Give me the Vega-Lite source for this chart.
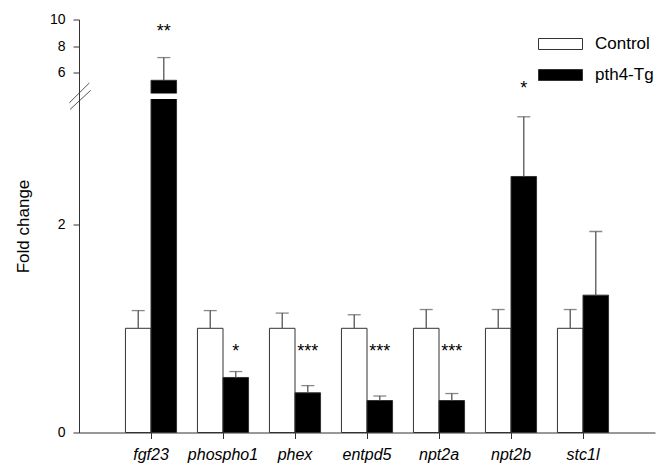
{
  "$schema": "https://vega.github.io/schema/vega-lite/v6.json",
  "width": 576,
  "height": 413,
  "autosize": {"type": "none"},
  "padding": {"left": 79, "top": 19.5, "right": 16, "bottom": 40.5},
  "config": {
    "font": "Liberation Sans",
    "view": {"stroke": null},
    "axis": {"grid": false, "domainColor": "#333333", "tickColor": "#333333", "labelColor": "#000000", "titleColor": "#000000"}
  },
  "datasets": {
    "bars": [
      {"gene": "fgf23", "group": "Control", "value": 1.0, "upper": 1.17},
      {"gene": "fgf23", "group": "pth4-Tg", "value": 5.45, "upper": 7.15},
      {"gene": "phospho1", "group": "Control", "value": 1.0, "upper": 1.17},
      {"gene": "phospho1", "group": "pth4-Tg", "value": 0.528, "upper": 0.585},
      {"gene": "phex", "group": "Control", "value": 1.0, "upper": 1.146},
      {"gene": "phex", "group": "pth4-Tg", "value": 0.381, "upper": 0.45},
      {"gene": "entpd5", "group": "Control", "value": 1.0, "upper": 1.13},
      {"gene": "entpd5", "group": "pth4-Tg", "value": 0.307, "upper": 0.35},
      {"gene": "npt2a", "group": "Control", "value": 1.0, "upper": 1.18},
      {"gene": "npt2a", "group": "pth4-Tg", "value": 0.307, "upper": 0.374},
      {"gene": "npt2b", "group": "Control", "value": 1.0, "upper": 1.18},
      {"gene": "npt2b", "group": "pth4-Tg", "value": 2.457, "upper": 3.03},
      {"gene": "stc1l", "group": "Control", "value": 1.0, "upper": 1.18},
      {"gene": "stc1l", "group": "pth4-Tg", "value": 1.318, "upper": 1.929}
    ],
    "stars": [
      {"gene": "fgf23", "group": "pth4-Tg", "label": "**", "pos": 9.05},
      {"gene": "phospho1", "group": "pth4-Tg", "label": "*", "pos": 0.77},
      {"gene": "phex", "group": "pth4-Tg", "label": "***", "pos": 0.77},
      {"gene": "entpd5", "group": "pth4-Tg", "label": "***", "pos": 0.77},
      {"gene": "npt2a", "group": "pth4-Tg", "label": "***", "pos": 0.77},
      {"gene": "npt2b", "group": "pth4-Tg", "label": "*", "pos": 4.78}
    ],
    "gap": [{"lo": 3.2, "hi": 4.46}],
    "brk": [
      {"sx": -0.0168, "sx2": 0.0179, "sy": 3.163, "sy2": 5.25},
      {"sx": -0.0156, "sx2": 0.0203, "sy": 3.10, "sy2": 4.70}
    ]
  },
  "layer": [
    {
      "layer": [
        {
          "data": {"name": "bars"},
          "mark": {"type": "bar", "stroke": "#333333", "strokeWidth": 1},
          "encoding": {
            "x": {
              "field": "gene", "type": "nominal",
              "scale": {"domain": ["fgf23", "phospho1", "phex", "entpd5", "npt2a", "npt2b", "stc1l"], "paddingInner": 0.29, "paddingOuter": 0.645},
              "axis": {"title": null, "labelAngle": 0, "labelFontSize": 16, "labelFontStyle": "italic", "tickSize": 6, "labelPadding": 8, "zindex": 1}
            },
            "xOffset": {"field": "group", "type": "nominal", "scale": {"domain": ["Control", "pth4-Tg"], "paddingInner": 0, "paddingOuter": 0}},
            "y": {
              "field": "value", "type": "quantitative",
              "scale": {"domain": [0, 3.2, 4.46, 10], "range": [413, 79.56, 74.04, 0], "nice": false, "zero": false},
              "axis": {"title": "Fold change", "values": [0, 2, 6, 8, 10], "labelFontSize": 14, "tickSize": 6, "labelPadding": 8, "titleFontSize": 17, "titleFontWeight": "normal", "titlePadding": 17, "zindex": 1}
            },
            "fill": {
              "field": "group", "type": "nominal",
              "scale": {"domain": ["Control", "pth4-Tg"], "range": ["#ffffff", "#000000"]},
              "legend": {
                "title": null, "orient": "none", "legendX": 459, "legendY": 2,
                "symbolType": "M-1,-0.25H1V0.25H-1Z", "symbolSize": 1936,
                "symbolStrokeColor": "#333333", "symbolStrokeWidth": 1,
                "labelFontSize": 17, "labelOffset": 12, "rowPadding": -20, "padding": 0
              }
            }
          }
        },
        {
          "data": {"name": "bars"},
          "mark": {"type": "rule", "color": "#555555", "strokeWidth": 1.3},
          "encoding": {
            "x": {"field": "gene", "type": "nominal"},
            "xOffset": {"field": "group", "type": "nominal"},
            "y": {"field": "value", "type": "quantitative"},
            "y2": {"field": "upper"}
          }
        },
        {
          "data": {"name": "bars"},
          "mark": {"type": "tick", "orient": "horizontal", "size": 13, "thickness": 1.3, "color": "#555555"},
          "encoding": {
            "x": {"field": "gene", "type": "nominal"},
            "xOffset": {"field": "group", "type": "nominal"},
            "y": {"field": "upper", "type": "quantitative"}
          }
        },
        {
          "data": {"name": "gap"},
          "mark": {"type": "rect", "color": "#ffffff"},
          "encoding": {
            "y": {"field": "lo", "type": "quantitative"},
            "y2": {"field": "hi"}
          }
        },
        {
          "data": {"name": "stars"},
          "mark": {"type": "text", "fontSize": 18, "baseline": "middle", "align": "center", "color": "#000000"},
          "encoding": {
            "x": {"field": "gene", "type": "nominal"},
            "xOffset": {"field": "group", "type": "nominal"},
            "y": {"field": "pos", "type": "quantitative"},
            "text": {"field": "label"}
          }
        }
      ]
    },
    {
      "data": {"name": "brk"},
      "mark": {"type": "rule", "color": "#555555", "strokeWidth": 1},
      "encoding": {
        "x": {"field": "sx", "type": "quantitative", "scale": {"domain": [0, 1], "nice": false, "zero": false}, "axis": null},
        "x2": {"field": "sx2"},
        "y": {"field": "sy", "type": "quantitative"},
        "y2": {"field": "sy2"}
      }
    }
  ],
  "resolve": {"scale": {"x": "independent"}}
}
